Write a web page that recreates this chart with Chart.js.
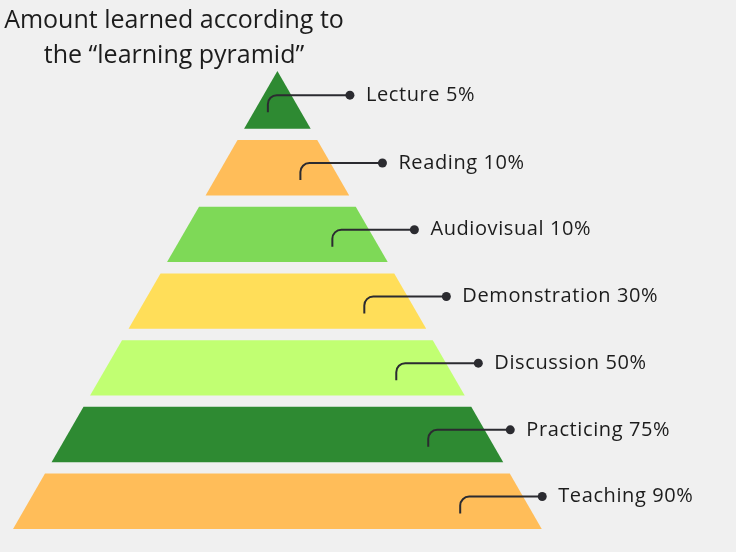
<!DOCTYPE html>
<html>
<head>
<meta charset="utf-8">
<script src="https://cdn.jsdelivr.net/npm/chart.js@4.4.1/dist/chart.umd.min.js"></script>
<style>
  html, body { margin: 0; padding: 0; background: #f0f0f0; }
  #wrap { width: 736px; height: 552px; position: relative; }
</style>
</head>
<body>
<div id="wrap"><canvas id="pyramid"></canvas></div>
<script>
const titleLines = ['Amount learned according to', 'the \u201clearning pyramid\u201d'];
const levels = ['Lecture', 'Reading', 'Audiovisual', 'Demonstration', 'Discussion', 'Practicing', 'Teaching'];
const retention = [5, 10, 10, 30, 50, 75, 90];
const levelColors = ['#2e8a32', '#ffbd59', '#7ed957', '#ffde59', '#c1ff72', '#2e8a32', '#ffbd59'];

// pyramid geometry in axis units: one unit of depth per level, sides at 30 degrees
const slope = Math.tan(Math.PI / 6);
const gapTop = 0.035, band = 0.83;
const levelTop = i => i === 0 ? 0 : i + gapTop;
const levelBottom = i => i + gapTop + band;

const datasets = levels.map((name, i) => {
  const t = levelTop(i), b = levelBottom(i);
  return {
    label: name,
    data: [{x: -t * slope, y: t}, {x: t * slope, y: t}, {x: b * slope, y: b}, {x: -b * slope, y: b}],
    showLine: true,
    fill: 'shape',
    backgroundColor: levelColors[i],
    borderColor: 'transparent',
    borderWidth: 0,
    pointRadius: 0
  };
});

const titlePlugin = {
  id: 'pyramidTitle',
  afterDraw(chart) {
    const ctx = chart.ctx;
    ctx.save();
    ctx.fillStyle = '#1c1c1c';
    ctx.font = '25px "Open Sans"';
    ctx.textAlign = 'center';
    ctx.textBaseline = 'alphabetic';
    ctx.fillText(titleLines[0], 174, 28);
    ctx.fillText(titleLines[1], 174, 63);
    ctx.restore();
  }
};

const connectors = {
  id: 'connectors',
  afterDatasetsDraw(chart) {
    const {ctx, scales: {x, y}} = chart;
    ctx.save();
    ctx.lineWidth = 2;
    ctx.font = '20px "Open Sans"';
    ctx.letterSpacing = '0.6px';
    ctx.textBaseline = 'middle';
    levels.forEach((name, i) => {
      const center = (levelTop(i) + levelBottom(i)) / 2;
      const lineY = center - 0.07;
      const reach = 0.83 * center * slope - 0.35;
      const py = y.getPixelForValue(lineY);
      const px = x.getPixelForValue(reach);
      const pEnd = x.getPixelForValue(reach + 1.23);
      const pDown = y.getPixelForValue(lineY + 0.255);
      const r = 9;
      ctx.strokeStyle = '#2b2b30';
      ctx.fillStyle = '#2b2b30';
      ctx.beginPath();
      ctx.moveTo(px, pDown);
      ctx.arcTo(px, py, px + r, py, r);
      ctx.lineTo(pEnd, py);
      ctx.stroke();
      ctx.beginPath();
      ctx.arc(pEnd, py, 4.5, 0, Math.PI * 2);
      ctx.fill();
      ctx.fillStyle = '#1c1c1c';
      ctx.fillText(name + ' ' + retention[i] + '%', pEnd + 16, py);
    });
    ctx.restore();
  }
};

new Chart(document.getElementById('pyramid'), {
  type: 'scatter',
  data: { datasets: datasets },
  options: {
    responsive: true,
    maintainAspectRatio: false,
    animation: false,
    events: [],
    layout: { padding: 0 },
    plugins: {
      legend: { display: false },
      tooltip: { enabled: false },
      title: { display: false }
    },
    scales: {
      x: { type: 'linear', display: false, min: -4.159, max: 6.876 },
      y: { type: 'linear', display: false, reverse: true, min: -1.0645, max: 7.2114 }
    }
  },
  plugins: [titlePlugin, connectors]
});
</script>
</body>
</html>
